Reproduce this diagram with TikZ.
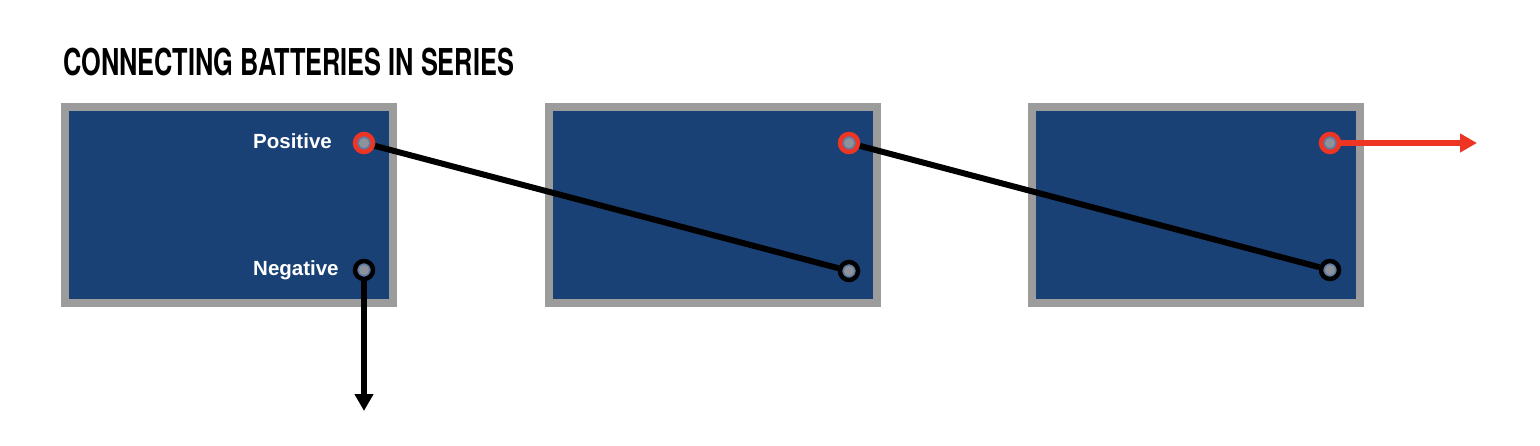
\documentclass[tikz,border=0pt]{standalone}
\usepackage{fontspec}
\usetikzlibrary{arrows.meta}
\setmainfont{Liberation Sans}
\newfontfamily\titlefont[FakeStretch=0.685]{TeX Gyre Heros}
\definecolor{navy}{HTML}{1A4175}
\definecolor{rim}{HTML}{9C9C9C}
\definecolor{redwire}{HTML}{EE3524}
\definecolor{post}{HTML}{8E939B}
\definecolor{halo}{HTML}{5F7BA3}
\tikzset{
  battery/.style={draw=rim,fill=navy,line width=8pt,minimum width=328pt,minimum height=196pt,inner sep=0pt,anchor=north west},
  termbase/.style={circle,fill=halo,line width=4.5pt,minimum size=18pt,inner sep=0pt,
    path picture={\fill[post] (path picture bounding box.center) circle (5pt);}},
  posterm/.style={termbase,draw=redwire},
  negterm/.style={termbase,draw=black},
  wire/.style={line width=6pt,draw=black},
  lead/.style={line width=5.5pt,-{Triangle[length=17pt,width=18pt]}},
  lab/.style={text=white,font=\fontsize{20.5}{24}\selectfont\bfseries,inner sep=0pt,anchor=base west}
}
\begin{document}
\begin{tikzpicture}[x=1pt,y=-1pt]
\useasboundingbox (0,0) rectangle (1540,446);
\node[anchor=base west,inner sep=0pt,font=\fontsize{37}{40}\selectfont\bfseries\titlefont] (title) at (63,75.5) {CONNECTING BATTERIES IN SERIES};
\node[battery] (b1) at (61,103) {};
\node[battery] (b2) at (545,103) {};
\node[battery] (b3) at (1028,103) {};
\node[lab] (lp) at (253,149) {Positive};
\node[lab] (ln) at (253,276) {Negative};
\node[posterm] (p1) at (364,143) {};
\node[negterm] (n1) at (364,270) {};
\node[posterm] (p2) at (849,143) {};
\node[negterm] (n2) at (849,271) {};
\node[posterm] (p3) at (1330,143) {};
\node[negterm] (n3) at (1330,270) {};
\coordinate (endn) at (364,411);
\coordinate (endp) at (1477,143);
\draw[wire] (p1) -- (n2);
\draw[wire] (p2) -- (n3);
\draw[lead,draw=black,fill=black] (n1) -- (endn);
\draw[lead,draw=redwire,fill=redwire] (p3) -- (endp);
\end{tikzpicture}
\end{document}
